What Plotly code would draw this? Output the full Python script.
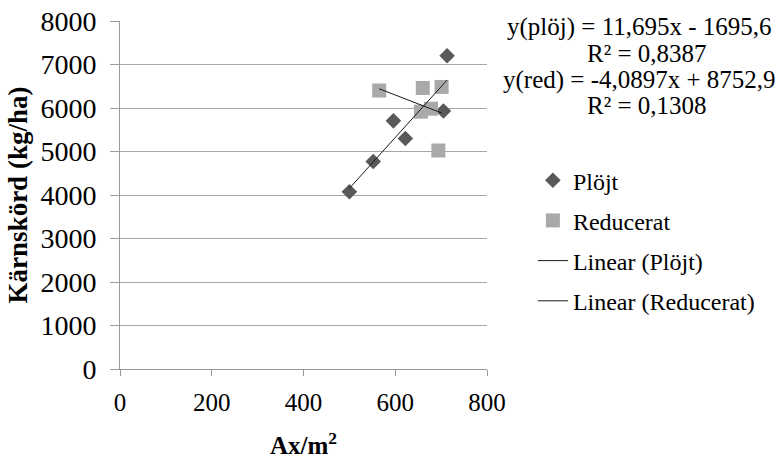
import plotly.graph_objects as go

# Data
plojt_x = [500, 552, 596, 622, 705, 713]
plojt_y = [4075, 4770, 5705, 5300, 5932, 7200]

red_x = [565, 660, 701, 656, 678, 694]
red_y = [6402, 6461, 6484, 5916, 5984, 5023]

# Trendline coefficients (as shown in the chart)
plojt_slope, plojt_intercept = 11.695, -1695.6
red_slope, red_intercept = -4.0897, 8752.9

eq_lines = [
    "y(plöj) = 11,695x - 1695,6",
    "R² = 0,8387",
    "y(red) = -4,0897x + 8752,9",
    "R² = 0,1308",
]
eq_x = [1.416, 1.435, 1.416, 1.435]
eq_y = [0.982, 0.907, 0.830, 0.756]

FONT = "Liberation Serif"

def line_pts(xs, m, b):
    x0, x1 = min(xs), max(xs)
    return [x0, x1], [m * x0 + b, m * x1 + b]

fig = go.Figure()
fig.add_trace(go.Scatter(
    x=plojt_x, y=plojt_y, mode="markers", name="Plöjt",
    marker=dict(symbol="diamond", size=12, color="#595959"),
    legendgroup="a"))
fig.add_trace(go.Scatter(
    x=red_x, y=red_y, mode="markers", name="Reducerat",
    marker=dict(symbol="square", size=14, color="#a9a9a9"),
    legendgroup="b"))
lx, ly = line_pts(plojt_x, plojt_slope, plojt_intercept)
fig.add_trace(go.Scatter(
    x=lx, y=ly, mode="lines", name="Linear (Plöjt)",
    line=dict(color="#1a1a1a", width=1), legendgroup="c"))
rx, ry = line_pts(red_x, red_slope, red_intercept)
fig.add_trace(go.Scatter(
    x=rx, y=ry, mode="lines", name="Linear (Reducerat)",
    line=dict(color="#1a1a1a", width=1), legendgroup="d"))

fig.update_layout(
    width=776, height=459,
    margin=dict(l=120, r=289, t=21, b=90),
    paper_bgcolor="white", plot_bgcolor="white",
    font=dict(family=FONT, size=24, color="#000000"),
    showlegend=True,
    legend=dict(
        x=1.125, y=0.606, xanchor="left", yanchor="top",
        font=dict(family=FONT, size=24),
        tracegroupgap=6, itemwidth=30,
        bgcolor="rgba(0,0,0,0)",
    ),
    xaxis=dict(
        range=[0, 800], tickvals=[0, 200, 400, 600, 800],
        showgrid=False, zeroline=False, automargin=False,
        showline=True, linecolor="#9a9a9a", linewidth=1,
        ticks="outside", ticklen=6, tickcolor="#9a9a9a",
        ticklabelstandoff=5,
        tickfont=dict(family=FONT, size=25),
        title=dict(text="<b>Ax/m<sup>2</sup></b>", font=dict(family=FONT, size=25), standoff=21),
    ),
    yaxis=dict(
        range=[0, 8000], tickvals=list(range(0, 8001, 1000)),
        showgrid=True, gridcolor="#a6a6a6", gridwidth=1,
        zeroline=False, automargin=False,
        showline=True, linecolor="#9a9a9a", linewidth=1,
        ticks="outside", ticklen=9, tickcolor="#9a9a9a",
        ticklabelstandoff=8,
        tickfont=dict(family=FONT, size=28),
        title=dict(text="<b>Kärnskörd (kg/ha)</b>", font=dict(family=FONT, size=27), standoff=4),
    ),
)

for txt, xx, yy in zip(eq_lines, eq_x, eq_y):
    fig.add_annotation(
        text=txt, xref="paper", yref="paper",
        x=xx, y=yy, xanchor="center", yanchor="middle",
        showarrow=False, align="center",
        font=dict(family=FONT, size=25, color="#000000"),
    )

fig.write_html("out.html")
